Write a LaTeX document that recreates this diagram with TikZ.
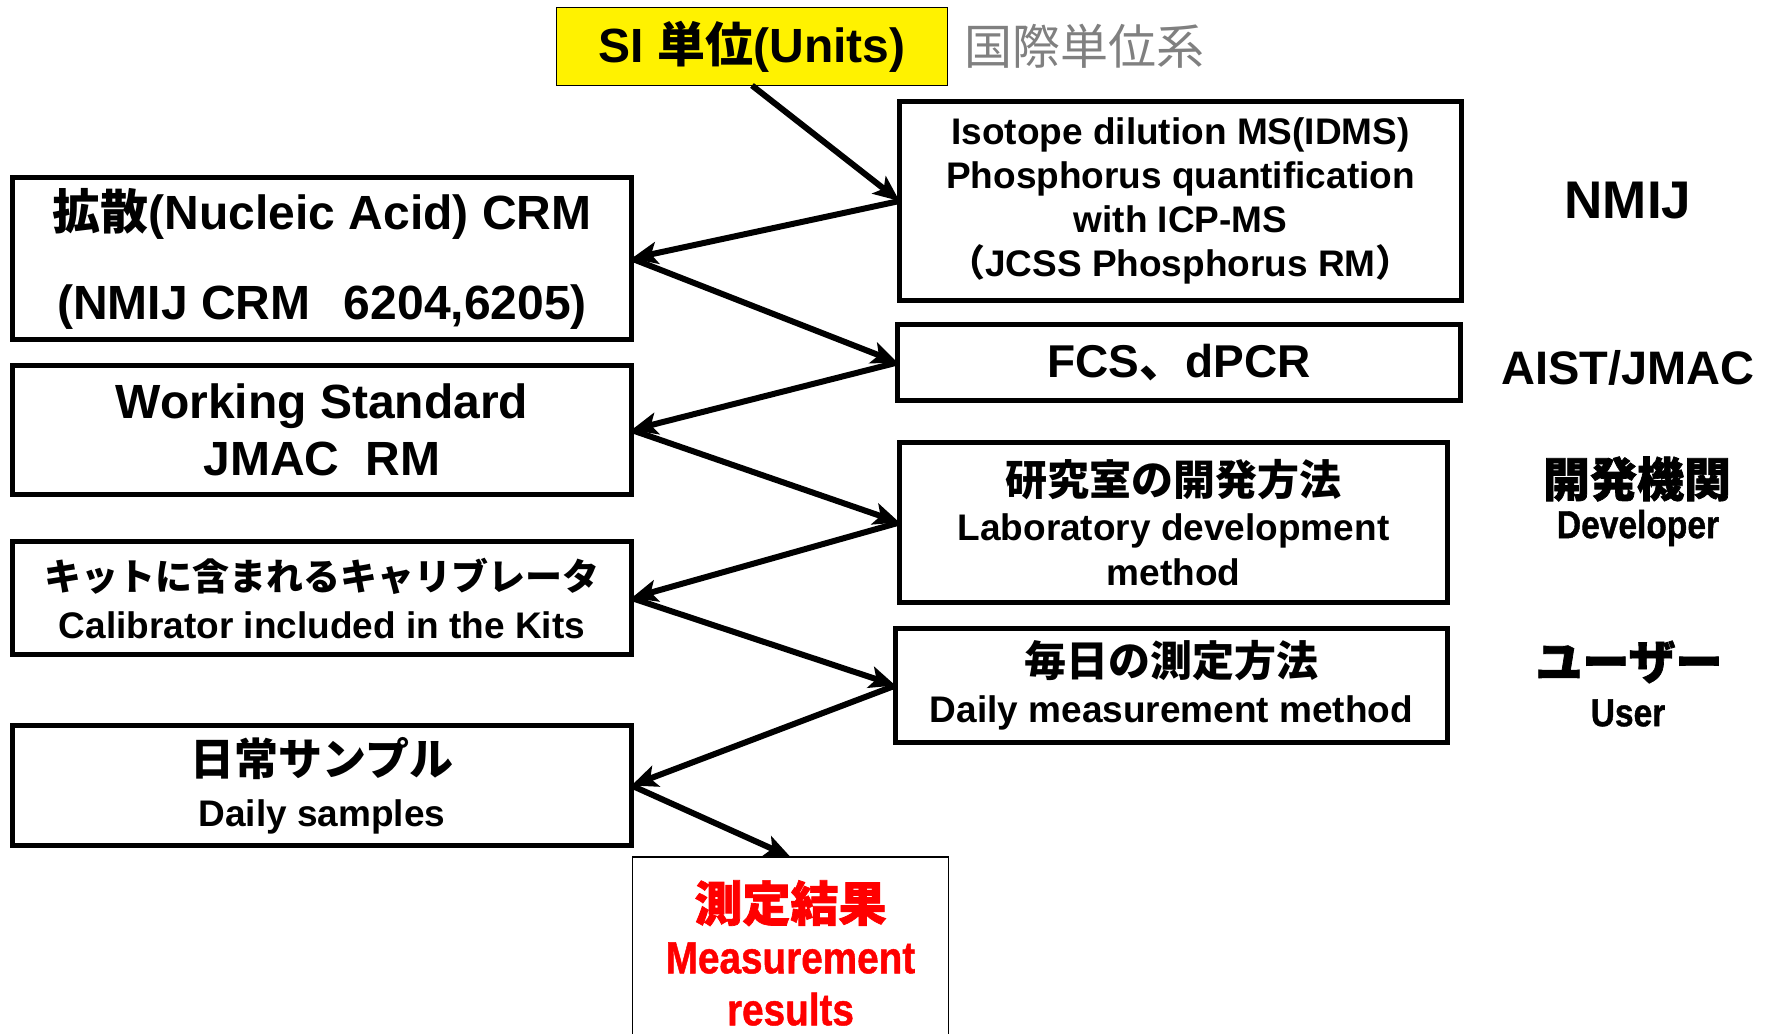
\documentclass[tikz,border=0pt]{standalone}
\usepackage{fontspec}
\setmainfont{Liberation Sans}
\newfontfamily\jp{Noto Sans CJK JP}
\newfontfamily\jpheavy{Noto Sans CJK JP}[BoldFeatures={FakeBold=1.5}]
\newfontfamily\narrowfont{Liberation Sans}[FakeStretch=0.86, UprightFont=* Bold, BoldFont=* Bold, FakeBold=1]
\usetikzlibrary{arrows.meta}
\definecolor{midgray}{RGB}{128,128,128}
\definecolor{sired}{RGB}{255,0,0}
\tikzset{
  box/.style={draw, line width=2.25pt, inner sep=0pt, outer sep=0pt, align=center},
  thinbox/.style={draw, line width=0.75pt, inner sep=0pt, outer sep=0pt, align=center},
  arr/.style={line width=3pt, -{Stealth[length=13pt,width=11pt,inset=3pt]}},
  lbl/.style={inner sep=0pt, outer sep=0pt, align=center, font=\bfseries}
}
\begin{document}
\begin{tikzpicture}[x=0.5pt,y=-0.5pt]
\useasboundingbox (0,0) rectangle (1769,1034);
\clip (0,0) rectangle (1769,1034);

% top
\node[thinbox, fill=yellow, minimum width=195.5pt, minimum height=39pt,
      font=\bfseries\fontsize{24pt}{28pt}\selectfont] (si) at (752,46.5)
      {SI {\jp 単位}(Units)};
\node[lbl, text=midgray, font=\fontsize{24pt}{28pt}\selectfont] (kokusai) at (1084,46) {\jp\mdseries 国際単位系};

% right column boxes
\node[box, minimum width=281pt, minimum height=99.5pt,
      font=\bfseries\fontsize{18.5pt}{22pt}\selectfont] (iso) at (1180.5,201)
      {Isotope dilution MS(IDMS)\\Phosphorus quantification\\with ICP-MS\\{\jp （}JCSS Phosphorus RM{\jp ）}};
\node[box, minimum width=281.5pt, minimum height=38pt,
      font=\bfseries\fontsize{23pt}{27pt}\selectfont] (fcs) at (1179,362.5)
      {FCS{\jp 、}dPCR};
\node[box, minimum width=274pt, minimum height=80pt,
      font=\bfseries\fontsize{18.5pt}{22.5pt}\selectfont] (lab) at (1173.5,522.5)
      {{\jp\fontsize{21pt}{22.5pt}\selectfont 研究室の開発方法}\\Laboratory development\\method};
\node[box, minimum width=276pt, minimum height=57pt,
      font=\bfseries\fontsize{18.5pt}{23pt}\selectfont] (dm) at (1171.5,685.5)
      {{\jp\fontsize{21pt}{23pt}\selectfont 毎日の測定方法}\\Daily measurement method};

% left column boxes
\node[box, minimum width=309.5pt, minimum height=81pt,
      font=\bfseries\fontsize{24pt}{45pt}\selectfont] (crm) at (322,258.5)
      {{\jp 拡散}(Nucleic Acid) CRM\\(NMIJ CRM\hspace{0.7em}6204,6205)};
\node[box, minimum width=309.5pt, minimum height=64.5pt,
      font=\bfseries\fontsize{24pt}{28.5pt}\selectfont] (ws) at (322,430)
      {Working Standard\\JMAC\hspace{0.55em}RM};
\node[box, minimum width=309.5pt, minimum height=56.5pt,
      font=\bfseries\fontsize{18.5pt}{24pt}\selectfont] (kit) at (322,598)
      {{\jp キットに含まれるキャリブレータ}\\Calibrator included in the Kits};
\node[box, minimum width=309.5pt, minimum height=60pt,
      font=\bfseries\fontsize{18.5pt}{25.5pt}\selectfont] (ds) at (322,785.5)
      {{\jp\fontsize{22pt}{25.5pt}\selectfont 日常サンプル}\\Daily samples};

% result box
\node[thinbox, minimum width=158pt, minimum height=100pt, text=sired,
      font=\bfseries\fontsize{22.5pt}{26pt}\selectfont] (mr) at (790.5,957)
      {};
\node[lbl, text=sired, font=\bfseries\fontsize{22.5pt}{26pt}\selectfont] (mrtext) at (790.5,953)
      {{\jpheavy\fontsize{24pt}{26pt}\selectfont 測定結果}\\{\narrowfont Measurement}\\{\narrowfont results}};

% right-hand labels
\node[lbl, font=\bfseries\fontsize{26.5pt}{30pt}\selectfont] (nmij) at (1628,201) {NMIJ};
\node[lbl, font=\bfseries\fontsize{23.5pt}{28pt}\selectfont] (aist) at (1628,368) {AIST/JMAC};
\node[lbl, font=\bfseries\fontsize{23.5pt}{28pt}\selectfont] (kaihatsu) at (1637,479) {\jpheavy 開発機関};
\node[lbl, font=\bfseries\fontsize{19.5pt}{24pt}\selectfont] (developer) at (1638,528) {\narrowfont Developer};
\node[lbl, font=\bfseries\fontsize{23.5pt}{28pt}\selectfont] (user-jp) at (1629,662) {\jpheavy ユーザー};
\node[lbl, font=\bfseries\fontsize{19.5pt}{24pt}\selectfont] (user) at (1628,713) {\narrowfont User};

% arrows
\draw[arr] (si.south) -- (iso.west);
\draw[arr] (iso.west) -- (crm.east);
\draw[arr] (crm.east) -- (fcs.west);
\draw[arr] (fcs.west) -- (ws.east);
\draw[arr] (ws.east) -- (lab.west);
\draw[arr] (lab.west) -- (kit.east);
\draw[arr] (kit.east) -- (dm.west);
\draw[arr] (dm.west) -- (ds.east);
\draw[arr] (ds.east) -- (mr.north);
\end{tikzpicture}
\end{document}
